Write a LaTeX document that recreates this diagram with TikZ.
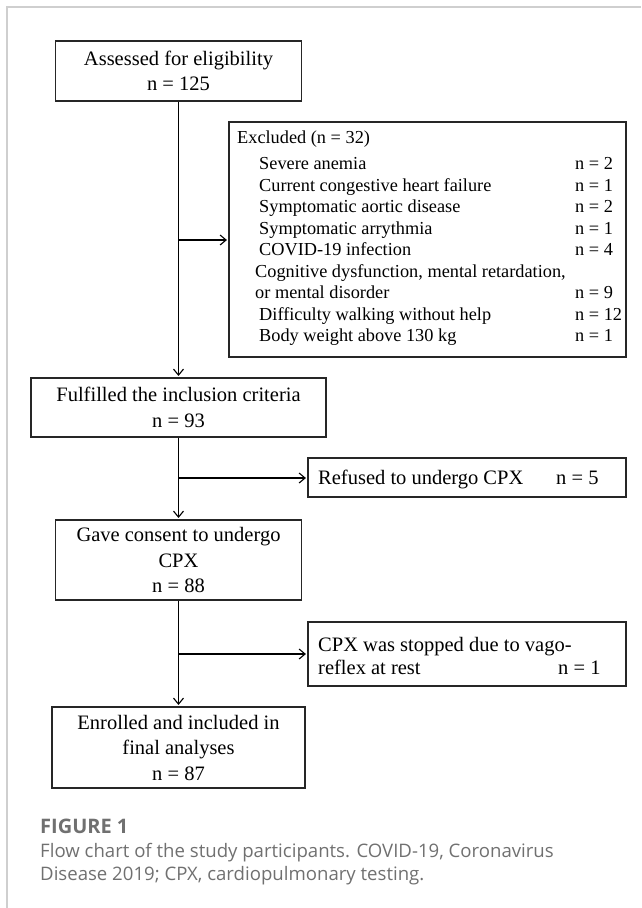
\documentclass[tikz,border=0pt]{standalone}
\usepackage{fontspec}
\setmainfont{Liberation Serif}
\newfontfamily\capfont{Open Sans}
\usepackage{tikz}
\usetikzlibrary{arrows.meta,calc,positioning}
\usepackage{xcolor}
\definecolor{capgrey}{HTML}{707070}
\definecolor{framegrey}{HTML}{CFCFCF}

\begin{document}
\begin{tikzpicture}[x=1pt, y=-1pt,
  box/.style={draw=black!85, line width=1.1pt, inner sep=0pt, align=center, font=\fontsize{20.5}{25.5}\selectfont},
  sidebox/.style={draw=black!85, line width=1.1pt, inner sep=0pt},
  txt/.style={inner sep=0pt, anchor=base west, font=\fontsize{20.5}{24.5}\selectfont},
  item/.style={inner sep=0pt, anchor=base west, font=\fontsize{18.3}{21.5}\selectfont},
  captxt/.style={inner sep=0pt, anchor=base west, text=capgrey, font=\capfont\fontsize{18.6}{23}\selectfont},
  arr/.style={line width=1.1pt, -{Straight Barb[length=6pt,width=10pt]}, shorten >=1.5pt}]
\useasboundingbox (0,0) rectangle (641,908);
% cornice
\draw[framegrey, line width=1.5pt] (7,908) -- (7,7) -- (641,7);
% colonna principale
\node[box, minimum width=246, minimum height=60] (assessed) at (178.5,71) {Assessed for eligibility\\n = 125};
\node[box, minimum width=295, minimum height=59] (fulfilled) at (178.5,407.5) {Fulfilled the inclusion criteria\\n = 93};
\node[box, minimum width=246, minimum height=80] (consent) at (178.5,560) {Gave consent to undergo\\CPX\\n = 88};
\node[box, minimum width=253, minimum height=81] (enrolled) at (178.5,747.5) {Enrolled and included in\\final analyses\\n = 87};
\draw[arr] (assessed) -- (fulfilled);
\draw[arr] (fulfilled) -- (consent);
\draw[arr] (consent) -- (enrolled);
% esclusi
\node[sidebox, minimum width=397, minimum height=235] (excluded) at (427.5,239.5) {};
\node[item] (exhead) at (237,143.5) {Excluded (n = 32)};
\foreach \y/\lab/\num [count=\i] in {169.5/Severe anemia/2, 191/Current congestive heart failure/1,
    212.5/Symptomatic aortic disease/2, 234/Symptomatic arrythmia/1, 255.5/COVID-19 infection/4,
    320/Difficulty walking without help/12, 341.5/Body weight above 130 kg/1}{
  \node[item] (exl\i) at (259,\y) {\lab};
  \node[item] (exn\i) at (575,\y) {n = \num};
}
\node[item] (cogn1) at (255,277) {Cognitive dysfunction, mental retardation,};
\node[item] (cogn2) at (255,298.5) {or mental disorder};
\node[item] (cognn) at (575,298.5) {n = 9};
\coordinate (bx) at (178.5,240);
\draw[arr] (bx) -- (bx -| excluded.west);
% rifiuti
\node[sidebox, minimum width=318, minimum height=39] (refused) at (467,477.5) {};
\node[txt] (reftxt) at (318,484.5) {Refused to undergo CPX};
\node[txt] (refn) at (556,484.5) {n = 5};
\coordinate (br) at (178.5,478);
\draw[arr] (br) -- (br -| refused.west);
% test interrotto
\node[sidebox, minimum width=318, minimum height=64] (stopped) at (467,654) {};
\node[txt] (stptxt1) at (318,651) {CPX was stopped due to vago-};
\node[txt] (stptxt2) at (318,674) {reflex at rest};
\node[txt] (stpn) at (558,674) {n = 1};
\coordinate (bs) at (178.5,654);
\draw[arr] (bs) -- (bs -| stopped.west);
% didascalia
\node[captxt, font=\capfont\bfseries\fontsize{20}{24}\selectfont] (figlab) at (40,833) {FIGURE 1};
\node[captxt] (cap1) at (40,857) {Flow chart of the study participants. COVID-19, Coronavirus};
\node[captxt] (cap2) at (40,880) {Disease 2019; CPX, cardiopulmonary testing.};
\end{tikzpicture}
\end{document}
